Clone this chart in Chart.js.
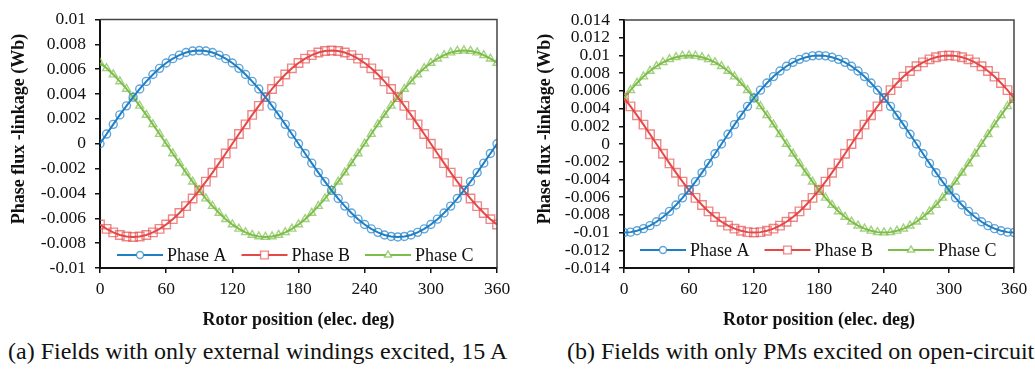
<!DOCTYPE html>
<html>
<head>
<meta charset="utf-8">
<script src="https://cdn.jsdelivr.net/npm/chart.js@4.4.0/dist/chart.umd.min.js"></script>
<style>
body { margin: 0; background: #fff; width: 1035px; height: 370px; position: relative; overflow: hidden;
  font-family: "Liberation Serif", "DejaVu Serif", serif; }
canvas { position: absolute; top: 0; }
.cap { position: absolute; top: 336px; font-size: 24px; line-height: 30px; color: #111; white-space: nowrap; }
</style>
</head>
<body>
<canvas id="left" width="517" height="335" style="left:0"></canvas>
<canvas id="right" width="518" height="335" style="left:517px"></canvas>
<div class="cap" style="left:8px">(a) Fields with only external windings excited, 15 A</div>
<div class="cap" style="left:567px">(b) Fields with only PMs excited on open-circuit</div>
<script>
// rotor position, elec. deg (one marker every 6 deg)
var rotorPos = [0, 6, 12, 18, 24, 30, 36, 42, 48, 54, 60, 66, 72, 78, 84, 90, 96, 102, 108, 114,
  120, 126, 132, 138, 144, 150, 156, 162, 168, 174, 180, 186, 192, 198, 204, 210, 216, 222, 228, 234,
  240, 246, 252, 258, 264, 270, 276, 282, 288, 294, 300, 306, 312, 318, 324, 330, 336, 342, 348, 354, 360];

var seriesNames = ['Phase A', 'Phase B', 'Phase C'];

// (a) external windings excited, 15 A  (Wb)
var phaseA_ext = [0, .00078, .00156, .00232, .00305, .00375, .00441, .00502, .00557, .00607,
  .0065, .00685, .00713, .00734, .00746, .0075, .00746, .00734, .00713, .00685,
  .0065, .00607, .00557, .00502, .00441, .00375, .00305, .00232, .00156, .00078,
  0, -.00078, -.00156, -.00232, -.00305, -.00375, -.00441, -.00502, -.00557, -.00607,
  -.0065, -.00685, -.00713, -.00734, -.00746, -.0075, -.00746, -.00734, -.00713, -.00685,
  -.0065, -.00607, -.00557, -.00502, -.00441, -.00375, -.00305, -.00232, -.00156, -.00078, 0];
var phaseB_ext = [-.0065, -.00685, -.00713, -.00734, -.00746, -.0075, -.00746, -.00734, -.00713, -.00685,
  -.0065, -.00607, -.00557, -.00502, -.00441, -.00375, -.00305, -.00232, -.00156, -.00078,
  0, .00078, .00156, .00232, .00305, .00375, .00441, .00502, .00557, .00607,
  .0065, .00685, .00713, .00734, .00746, .0075, .00746, .00734, .00713, .00685,
  .0065, .00607, .00557, .00502, .00441, .00375, .00305, .00232, .00156, .00078,
  0, -.00078, -.00156, -.00232, -.00305, -.00375, -.00441, -.00502, -.00557, -.00607, -.0065];
var phaseC_ext = [.0065, .00607, .00557, .00502, .00441, .00375, .00305, .00232, .00156, .00078,
  0, -.00078, -.00156, -.00232, -.00305, -.00375, -.00441, -.00502, -.00557, -.00607,
  -.0065, -.00685, -.00713, -.00734, -.00746, -.0075, -.00746, -.00734, -.00713, -.00685,
  -.0065, -.00607, -.00557, -.00502, -.00441, -.00375, -.00305, -.00232, -.00156, -.00078,
  0, .00078, .00156, .00232, .00305, .00375, .00441, .00502, .00557, .00607,
  .0065, .00685, .00713, .00734, .00746, .0075, .00746, .00734, .00713, .00685, .0065];

// (b) PMs only, open-circuit (Wb)
var phaseA_pm = [-.01, -.00995, -.0098, -.00956, -.00922, -.00878, -.00824, -.00761, -.00689, -.00608,
  -.0052, -.00425, -.00324, -.00219, -.0011, 0, .0011, .00219, .00324, .00425,
  .0052, .00608, .00689, .00761, .00824, .00878, .00922, .00956, .0098, .00995,
  .01, .00995, .0098, .00956, .00922, .00878, .00824, .00761, .00689, .00608,
  .0052, .00425, .00324, .00219, .0011, 0, -.0011, -.00219, -.00324, -.00425,
  -.0052, -.00608, -.00689, -.00761, -.00824, -.00878, -.00922, -.00956, -.0098, -.00995, -.01];
var phaseB_pm = [.0052, .00425, .00324, .00219, .0011, 0, -.0011, -.00219, -.00324, -.00425,
  -.0052, -.00608, -.00689, -.00761, -.00824, -.00878, -.00922, -.00956, -.0098, -.00995,
  -.01, -.00995, -.0098, -.00956, -.00922, -.00878, -.00824, -.00761, -.00689, -.00608,
  -.0052, -.00425, -.00324, -.00219, -.0011, 0, .0011, .00219, .00324, .00425,
  .0052, .00608, .00689, .00761, .00824, .00878, .00922, .00956, .0098, .00995,
  .01, .00995, .0098, .00956, .00922, .00878, .00824, .00761, .00689, .00608, .0052];
var phaseC_pm = [.0052, .00608, .00689, .00761, .00824, .00878, .00922, .00956, .0098, .00995,
  .01, .00995, .0098, .00956, .00922, .00878, .00824, .00761, .00689, .00608,
  .0052, .00425, .00324, .00219, .0011, 0, -.0011, -.00219, -.00324, -.00425,
  -.0052, -.00608, -.00689, -.00761, -.00824, -.00878, -.00922, -.00956, -.0098, -.00995,
  -.01, -.00995, -.0098, -.00956, -.00922, -.00878, -.00824, -.00761, -.00689, -.00608,
  -.0052, -.00425, -.00324, -.00219, -.0011, 0, .0011, .00219, .00324, .00425, .0052];

var lineColors = ['#1f7fc6', '#e54848', '#7dbd4a'];
var markColors = ['rgba(31,127,198,0.7)', 'rgba(229,72,72,0.65)', 'rgba(125,189,74,0.7)'];
var markStyles = ['circle', 'rect', 'triangle'];
var markRadius = [4, 6, 4.6];

var serif = '"Liberation Serif", "DejaVu Serif", serif';

// legend drawn inside the plot, Excel style
var insideLegend = {
  id: 'insideLegend',
  afterDraw: function(chart, args, opts) {
    var ctx = chart.ctx;
    var x = opts.x, y = opts.y;
    ctx.save();
    ctx.font = '18px ' + serif;
    ctx.textBaseline = 'middle';
    chart.data.datasets.forEach(function(ds, i) {
      ctx.strokeStyle = ds.borderColor;
      ctx.lineWidth = 2;
      ctx.beginPath();
      ctx.moveTo(x, y);
      ctx.lineTo(x + 46, y);
      ctx.stroke();
      ctx.fillStyle = '#fff';
      ctx.strokeStyle = ds.pointBorderColor;
      ctx.lineWidth = 1.4;
      Chart.helpers.drawPoint(ctx, {pointStyle: ds.pointStyle, radius: ds.pointRadius - 0.5, borderWidth: 1.4, rotation: 0}, x + 23, y);
      ctx.fillStyle = '#111';
      ctx.fillText(ds.label, x + 50, y + 1);
      x += 50 + ctx.measureText(ds.label).width + 15;
    });
    ctx.restore();
  }
};

// top/right frame and rotated y title
var frame = {
  id: 'frame',
  afterDraw: function(chart, args, opts) {
    var a = chart.chartArea, ctx = chart.ctx;
    ctx.save();
    ctx.strokeStyle = '#444';
    ctx.lineWidth = 1.5;
    ctx.beginPath();
    ctx.moveTo(a.left, a.top);
    ctx.lineTo(a.right, a.top);
    ctx.lineTo(a.right, a.bottom);
    ctx.stroke();
    ctx.translate(opts.titleX, opts.titleY);
    ctx.rotate(-Math.PI / 2);
    ctx.font = 'bold 18px ' + serif;
    ctx.fillStyle = '#111';
    ctx.textAlign = 'center';
    ctx.textBaseline = 'middle';
    ctx.fillText('Phase flux -linkage (Wb)', 0, 0);
    ctx.restore();
  }
};

function makeChart(id, series, yMax, cfg) {
  var datasets = series.map(function(vals, i) {
    return {
      label: seriesNames[i],
      data: rotorPos.map(function(p, k) { return {x: p, y: vals[k]}; }),
      borderColor: lineColors[i],
      borderWidth: 2,
      pointStyle: markStyles[i],
      pointRadius: markRadius[i],
      pointBorderWidth: 1.4,
      pointBorderColor: markColors[i],
      pointBackgroundColor: 'rgba(255,255,255,0)',
      tension: 0
    };
  });
  return new Chart(document.getElementById(id), {
    type: 'line',
    data: {datasets: datasets},
    plugins: [insideLegend, frame],
    options: {
      responsive: false,
      animation: false,
      events: [],
      layout: {padding: {top: cfg.top, right: cfg.right, left: 0, bottom: 0}},
      plugins: {
        legend: {display: false},
        tooltip: {enabled: false},
        insideLegend: {x: cfg.legX, y: cfg.legY},
        frame: {titleX: cfg.titleX, titleY: 129}
      },
      scales: {
        x: {
          type: 'linear', min: 0, max: 360,
          afterFit: function(s) { s.height = 67; },
          ticks: {stepSize: 60, color: '#111', padding: 6, font: {family: serif, size: 17.5}},
          grid: {drawOnChartArea: false, tickLength: 5, tickColor: '#111', lineWidth: 1.5},
          border: {color: '#111', width: 2},
          title: {display: true, text: 'Rotor position (elec. deg)', color: '#111',
            font: {family: serif, size: 18, weight: 'bold'}, padding: {top: 0, bottom: 4}}
        },
        y: {
          min: -yMax, max: yMax,
          afterFit: function(s) { s.width = cfg.yWidth; },
          ticks: {stepSize: 0.002, autoSkip: false, color: '#111', padding: 9, font: {family: serif, size: 17.5},
            callback: function(v) { return String(parseFloat(v.toFixed(3))); }},
          grid: {drawOnChartArea: false, tickLength: 5, tickColor: '#111', lineWidth: 1.5},
          border: {color: '#111', width: 2}
        }
      }
    }
  });
}

makeChart('left', [phaseA_ext, phaseB_ext, phaseC_ext], 0.01,
  {top: 19, right: 20, yWidth: 100, legX: 117, legY: 255, titleX: 19});
makeChart('right', [phaseA_pm, phaseB_pm, phaseC_pm], 0.014,
  {top: 20, right: 21, yWidth: 107, legX: 123, legY: 250, titleX: 28});
</script>
</body>
</html>
